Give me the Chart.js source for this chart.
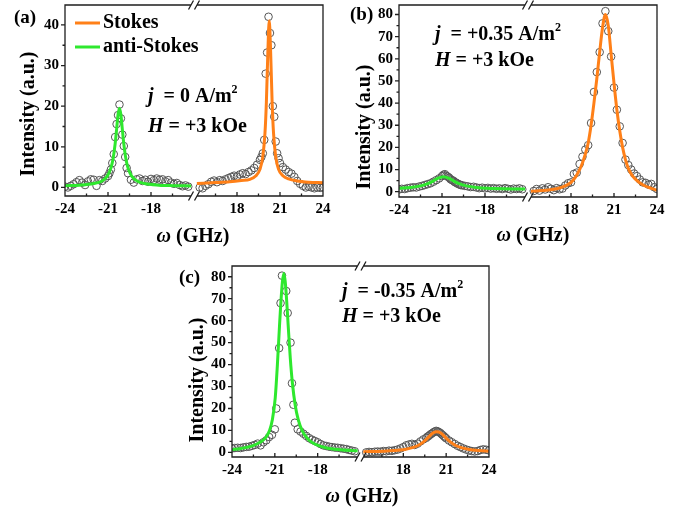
<!DOCTYPE html>
<html>
<head>
<meta charset="utf-8">
<script src="https://cdn.jsdelivr.net/npm/chart.js@4.4.1/dist/chart.umd.min.js"></script>
<style>
  html, body { margin: 0; padding: 0; background: #fff; }
  #wrap { position: relative; width: 689px; height: 513px; }
  #wrap canvas { position: absolute; }
</style>
</head>
<body>
<div id="wrap">
  <canvas id="chartA" width="345" height="255" style="left:0;top:0"></canvas>
  <canvas id="chartB" width="344" height="255" style="left:345px;top:0"></canvas>
  <canvas id="chartC" width="360" height="257" style="left:160px;top:256px"></canvas>
</div>
<script>
// ---- data (frequencies in GHz, intensity in a.u.) ----

// measured points: shared frequency grid for the anti-Stokes (left) and Stokes (right) side
const leftFreq = [-24.0, -23.8, -23.6, -23.4, -23.2, -23.0, -22.8, -22.6, -22.4, -22.2, -22.0, -21.8, -21.6, -21.4, -21.2,
  -21.0, -20.9, -20.8, -20.7, -20.6, -20.5, -20.4, -20.3, -20.2, -20.1, -20.0, -19.9, -19.8, -19.7, -19.6,
  -19.4, -19.2, -19.0, -18.8, -18.6, -18.4, -18.2, -18.0, -17.8, -17.6, -17.4, -17.2, -17.0, -16.8, -16.6, -16.4, -16.2, -16.0, -15.8, -15.6, -15.4];
const rightFreq = [15.4, 15.6, 15.8, 16.0, 16.2, 16.4, 16.6, 16.8, 17.0, 17.2, 17.4, 17.6, 17.8, 18.0, 18.2, 18.4, 18.6, 18.8, 19.0, 19.2, 19.4,
  19.6, 19.7, 19.8, 19.9, 20.0, 20.1, 20.2, 20.3, 20.4, 20.5, 20.6, 20.7, 20.8, 20.9, 21.0,
  21.2, 21.4, 21.6, 21.8, 22.0, 22.2, 22.4, 22.6, 22.8, 23.0, 23.2, 23.4, 23.6, 23.8, 24.0];

// (a) j = 0
const aAntiPoints = [0.2, 0.0, 0.4, 0.8, 1.3, 1.8, 1.2, 0.6, 1.5, 2.0, 1.9, 0.4, 1.8, 1.6, 2.2,
  2.8, 3.5, 4.4, 6.0, 8.2, 12.4, 15.6, 17.8, 20.4, 17.0, 13.0, 10.2, 7.5, 4.8, 3.5,
  1.9, 1.2, 2.0, 2.2, 1.6, 1.9, 1.4, 2.1, 1.8, 2.2, 1.9, 2.0, 1.5, 1.8, 1.2, 0.9, 1.1, 0.6, 0.3, 0.5, 0.2];
const aStokesPoints = [0.0, -0.2, 0.4, 0.8, 1.4, 1.7, 1.3, 1.8, 1.6, 2.0, 2.3, 2.6, 2.9, 2.7, 3.2, 3.5, 3.3, 3.8, 4.2, 4.8, 5.6,
  6.8, 7.5, 8.4, 11.7, 28.0, 33.2, 42.0, 38.0, 35.0, 20.0, 17.4, 11.3, 8.4, 7.2, 6.0,
  5.0, 4.4, 3.8, 3.4, 2.6, 1.6, 0.9, 0.4, 0.0, 0.2, 0.0, -0.2, 0.0, -0.1, 0.0];
const aAntiFitFreq = [-24.0, -23.0, -22.0, -21.45, -21.05, -20.8, -20.65, -20.5, -20.4, -20.3, -20.2, -20.1, -20.0, -19.9, -19.75, -19.6, -19.35, -18.95, -18.45, -17.45, -16.45, -15.2];
const aAntiFit = [0.45, 0.57, 0.96, 1.55, 2.8, 4.75, 7.0, 10.8, 14.3, 17.9, 19.5, 17.9, 14.3, 10.8, 7.0, 4.75, 2.8, 1.55, 0.96, 0.57, 0.45, 0.39];
const aStokesFitFreq = [15.2, 16.5, 17.5, 18.3, 18.9, 19.3, 19.6, 19.8, 19.95, 20.05, 20.15, 20.25, 20.35, 20.45, 20.55, 20.7, 20.9, 21.2, 21.6, 22.2, 23.0, 24.0];
const aStokesFit = [1.0, 1.2, 1.4, 1.7, 2.0, 2.8, 4.45, 7.6, 13.3, 21.0, 33.0, 41.0, 33.0, 21.0, 13.3, 7.6, 4.45, 2.9, 2.1, 1.6, 1.3, 1.15];

// (b) j = +0.35 A/m2
const bAntiPoints = [1.0, 1.3, 1.2, 1.6, 1.8, 2.0, 1.9, 2.3, 2.6, 3.0, 3.4, 3.8, 4.5, 5.2, 6.0,
  7.0, 7.6, 7.9, 7.2, 6.8, 6.3, 5.6, 5.2, 4.9, 4.3, 4.0, 3.6, 3.3, 3.0, 2.9,
  2.6, 2.4, 2.1, 2.2, 1.9, 1.6, 1.8, 1.5, 1.7, 1.4, 1.6, 1.3, 1.5, 1.2, 1.6, 1.3, 1.0, 1.4, 1.2, 1.5, 1.1];
const bStokesPoints = [0.3, 1.2, 0.5, 1.5, 1.0, 2.0, 1.3, 0.7, 1.6, 1.1, 1.4, 2.8, 3.8, 4.2, 8.0, 8.6, 12.5, 15.8, 19.0, 21.0, 31.0,
  45.0, null, 54.0, null, 63.0, null, 76.0, null, 81.5, null, 72.5, null, 61.0, null, 47.0,
  37.0, 29.5, 22.0, 14.5, 12.0, 10.0, 8.2, 7.0, 5.5, 4.2, 4.0, 3.2, 3.5, 2.0, 1.2];
const bAntiFitFreq = [-24.0, -23.2, -22.5, -22.0, -21.6, -21.3, -20.9, -20.5, -20.2, -19.8, -19.3, -18.6, -17.8, -16.8, -15.2];
const bAntiFit = [1.55, 1.92, 2.63, 3.62, 4.89, 6.0, 6.8, 6.0, 4.89, 3.62, 2.63, 1.92, 1.55, 1.33, 1.18];
const bStokesFitFreq = [15.2, 16.3, 17.0, 17.6, 18.0, 18.3, 18.6, 18.8, 19.0, 19.2, 19.4, 19.6, 19.8, 20.0, 20.2, 20.4, 20.6, 20.8, 21.0, 21.2,
  21.4, 21.6, 21.8, 22.0, 22.3, 22.7, 23.1, 23.6, 24.0];
const bStokesFit = [0.2, 0.6, 1.3, 2.6, 4.2, 6.5, 10, 13, 17, 22, 30, 40, 51, 63, 74, 80, 75, 62, 49, 37,
  27.5, 20, 14.5, 10.5, 7.0, 4.5, 2.8, 1.5, 0.6];

// (c) j = -0.35 A/m2
const cAntiPoints = [1.8, 2.0, 2.1, 2.0, 2.3, 2.5, 2.6, 3.0, 3.4, 4.0, 3.2, 4.6, 5.5, 7.0, 8.0,
  10.5, 20.0, null, 47.5, 68.0, 80.5, null, null, 73.5, 63.5, null, 50.0, 31.5, 21.7, 13.5,
  10.5, 9.5, 8.5, 7.5, 6.5, 5.8, 5.2, 4.6, 3.8, 3.2, 2.9, 2.6, 2.4, 2.2, 2.1, 1.9, 1.7, 1.5, 1.1, 0.8, 0.5];
const cStokesPoints = [0.0, 0.2, 0.1, 0.3, 0.4, 0.3, 0.6, 0.5, 0.8, 0.7, 1.0, 1.3, 1.8, 2.4, 3.2, 3.6, 3.9, 3.4, 4.0, 5.0, 5.9,
  6.6, 7.2, 7.6, 8.2, 8.6, 9.1, 9.5, 9.8, 9.6, 9.2, 8.8, 8.2, 7.6, 7.0, 6.4,
  5.4, 4.6, 3.8, 3.0, 2.4, 1.8, 1.3, 0.9, 0.6, 0.4, 0.6, 1.1, 1.4, 1.2, 0.9];
const cAntiFitFreq = [-24.0, -23.37, -22.57, -22.07, -21.67, -21.37, -21.17, -20.97, -20.82, -20.67, -20.57, -20.47, -20.37,
  -20.27, -20.17, -20.07, -19.92, -19.77, -19.57, -19.37, -19.07, -18.67, -18.17, -17.37, -16.4, -15.2];
const cAntiFit = [1.2, 1.8, 3.0, 4.5, 6.5, 10.0, 15.0, 25.0, 40.0, 58.0, 69.0, 77.6, 81.5,
  77.6, 69.0, 58.3, 43.1, 31.6, 21.4, 15.2, 9.7, 6.0, 3.7, 2.0, 1.2, 0.7];
const cStokesFitFreq = [15.2, 16.6, 17.4, 18.1, 18.7, 19.1, 19.5, 19.8, 20.1, 20.35, 20.6, 20.9, 21.2, 21.6, 22.0, 22.6, 23.3, 24.0];
const cStokesFit = [0.3, 0.53, 0.83, 1.35, 2.26, 3.38, 5.25, 7.18, 8.96, 9.4, 8.96, 7.18, 5.25, 3.38, 2.26, 1.35, 0.83, 0.52];

// axis ticks
const xMajorTicks = [-24, -21, -18, 18, 21, 24];
const xMinorTicks = [-22.5, -19.5, -16.5, 16.5, 19.5, 22.5];
const yTicksA = [0, 10, 20, 30, 40];
const yMinorA = [5, 15, 25, 35];
const yTicksBC = [0, 10, 20, 30, 40, 50, 60, 70, 80];
const yMinorBC = [5, 15, 25, 35, 45, 55, 65, 75];

// ---- helpers ----
const BREAK = 15;            // the axis skips -15 .. 15 GHz
const Y_W = 40, X_H = 30;    // fixed axis box sizes
const ORANGE = 'rgb(255,128,24)';
const GREEN = 'rgb(46,232,46)';
const SERIF = '"Liberation Serif", "Times New Roman", serif';

const shift = v => v < 0 ? v + BREAK : v - BREAK;
const unshift = v => v < 0 ? v - BREAK : v + BREAK;

function pts(xs, ys) {
  return xs.map((x, i) => ({ x: shift(x), y: ys[i] })).filter(p => p.y !== null);
}

function pointSet(xs, ys) {
  return {
    data: pts(xs, ys), showLine: false, order: 2,
    pointRadius: 3.8, pointBorderWidth: 1, pointBorderColor: '#555', pointBackgroundColor: 'rgba(0,0,0,0)'
  };
}

function fitSet(xs, ys, color, label) {
  return {
    label: label, data: pts(xs, ys), showLine: true, order: 1,
    borderColor: color, backgroundColor: color, borderWidth: 3, pointRadius: 0,
    cubicInterpolationMode: 'monotone'
  };
}

function drawRich(ctx, parts, x, y, size) {
  ctx.textBaseline = 'middle';
  ctx.textAlign = 'left';
  parts.forEach(p => {
    const s = p.sup ? size * 0.6 : size;
    ctx.font = (p.italic ? 'italic ' : '') + 'bold ' + s + 'px ' + SERIF;
    ctx.fillText(p.text, x, p.sup ? y - size * 0.33 : y);
    x += ctx.measureText(p.text).width;
  });
}

function richWidth(ctx, parts, size) {
  let w = 0;
  parts.forEach(p => {
    ctx.font = (p.italic ? 'italic ' : '') + 'bold ' + (p.sup ? size * 0.6 : size) + 'px ' + SERIF;
    w += ctx.measureText(p.text).width;
  });
  return w;
}

// frame with axis break, inward x ticks, outward y ticks and all the panel texts
const panelDecor = {
  id: 'panelDecor',
  afterDraw(chart, args, o) {
    const { ctx, chartArea: a, scales: { x, y } } = chart;
    const ox = o.offset[0], oy = o.offset[1];
    ctx.save();
    ctx.strokeStyle = '#1e1e1e';
    ctx.lineWidth = 1.3;
    const bx = x.getPixelForValue(0), g = 3;
    ctx.beginPath();
    ctx.moveTo(bx - g, a.bottom); ctx.lineTo(a.left, a.bottom); ctx.lineTo(a.left, a.top); ctx.lineTo(bx - g, a.top);
    ctx.moveTo(bx + g, a.top); ctx.lineTo(a.right, a.top); ctx.lineTo(a.right, a.bottom); ctx.lineTo(bx + g, a.bottom);
    [a.top, a.bottom].forEach(yy => {
      [-g, g].forEach(dx => { ctx.moveTo(bx + dx - 2.5, yy + 4.5); ctx.lineTo(bx + dx + 2.5, yy - 4.5); });
    });
    xMajorTicks.forEach(v => { const px = x.getPixelForValue(shift(v)); ctx.moveTo(px, a.bottom); ctx.lineTo(px, a.bottom - 4); });
    xMinorTicks.forEach(v => { const px = x.getPixelForValue(shift(v)); ctx.moveTo(px, a.bottom); ctx.lineTo(px, a.bottom - 2.5); });
    o.yMajor.forEach(v => { const py = y.getPixelForValue(v); ctx.moveTo(a.left, py); ctx.lineTo(a.left - 4, py); });
    o.yMinor.forEach(v => { const py = y.getPixelForValue(v); ctx.moveTo(a.left, py); ctx.lineTo(a.left - 2.5, py); });
    ctx.stroke();

    ctx.fillStyle = '#000';
    // panel letter
    drawRich(ctx, [{ text: o.letter }], o.letterPos[0] - ox, o.letterPos[1] - oy, 19);
    // y title
    ctx.save();
    ctx.translate(o.yTitlePos[0] - ox, o.yTitlePos[1] - oy);
    ctx.rotate(-Math.PI / 2);
    ctx.font = 'bold 20px ' + SERIF;
    ctx.textAlign = 'center';
    ctx.textBaseline = 'middle';
    ctx.fillText('Intensity (a.u.)', 0, 0);
    ctx.restore();
    // x title
    const xt = [{ text: '\u03C9', italic: true }, { text: ' (GHz)' }];
    drawRich(ctx, xt, o.xTitlePos[0] - ox - richWidth(ctx, xt, 20) / 2, o.xTitlePos[1] - oy, 20);
    // current and field annotation
    drawRich(ctx, [{ text: 'j', italic: true }, { text: '  = ' + o.current + ' A/m' }, { text: '2', sup: true }],
      o.notePos[0] - ox, o.notePos[1] - oy, 20);
    drawRich(ctx, [{ text: 'H', italic: true }, { text: ' = +3 kOe' }],
      o.notePos[0] - ox, o.notePos[1] - oy + o.noteGap, 20);
    // legend
    if (o.legendPos) {
      let ly = o.legendPos[1] - oy;
      chart.data.datasets.filter(d => d.label).forEach(d => {
        const lx = o.legendPos[0] - ox;
        ctx.strokeStyle = d.borderColor;
        ctx.lineWidth = 3;
        ctx.beginPath(); ctx.moveTo(lx, ly); ctx.lineTo(lx + 25, ly); ctx.stroke();
        drawRich(ctx, [{ text: d.label }], lx + 28, ly, 20);
        ly += 24;
      });
    }
    ctx.restore();
  }
};

function makePanel(id, p) {
  const l = p.area[0] - p.offset[0], t = p.area[1] - p.offset[1];
  const r = p.area[2] - p.offset[0], b = p.area[3] - p.offset[1];
  const cv = document.getElementById(id);
  const tickFont = { family: SERIF, weight: 'bold', size: 15 };
  return new Chart(cv.getContext('2d'), {
    type: 'scatter',
    data: { datasets: p.datasets },
    options: {
      responsive: false, animation: false, devicePixelRatio: 1, events: [],
      layout: { padding: { left: l - Y_W, top: t, right: cv.width - r, bottom: cv.height - b - X_H } },
      plugins: { legend: { display: false }, tooltip: { enabled: false }, panelDecor: p.decor },
      scales: {
        x: {
          type: 'linear', min: -9, max: 9,
          afterBuildTicks: s => { s.ticks = xMajorTicks.map(v => ({ value: shift(v) })); },
          afterFit: s => { s.height = X_H; s.paddingLeft = 0; s.paddingRight = 0; },
          grid: { display: false, drawTicks: false }, border: { display: false },
          ticks: { autoSkip: false, maxRotation: 0, padding: 4, color: '#000', font: tickFont,
            callback: v => String(Math.round(unshift(v))) }
        },
        y: {
          type: 'linear', min: p.yMin, max: p.yMax,
          afterBuildTicks: s => { s.ticks = p.decor.yMajor.map(v => ({ value: v })); },
          afterFit: s => { s.width = Y_W; s.paddingTop = 0; s.paddingBottom = 0; },
          grid: { display: false, drawTicks: false }, border: { display: false },
          ticks: { padding: 6, color: '#000', font: tickFont }
        }
      }
    },
    plugins: [panelDecor]
  });
}

makePanel('chartA', {
  offset: [0, 0], area: [65, 4, 323, 196], yMin: -2.1, yMax: 44.9,
  datasets: [
    fitSet(aStokesFitFreq, aStokesFit, ORANGE, 'Stokes'),
    fitSet(aAntiFitFreq, aAntiFit, GREEN, 'anti-Stokes'),
    pointSet(leftFreq, aAntiPoints),
    pointSet(rightFreq, aStokesPoints)
  ],
  decor: {
    offset: [0, 0], yMajor: yTicksA, yMinor: yMinorA, letter: '(a)', letterPos: [14, 18],
    yTitlePos: [29, 114], xTitlePos: [193, 237], current: '0', notePos: [148, 97], noteGap: 30,
    legendPos: [75, 23]
  }
});

makePanel('chartB', {
  offset: [345, 0], area: [399, 4, 657, 197], yMin: -2.4, yMax: 84.3,
  datasets: [
    fitSet(bStokesFitFreq, bStokesFit, ORANGE),
    fitSet(bAntiFitFreq, bAntiFit, GREEN),
    pointSet(leftFreq, bAntiPoints),
    pointSet(rightFreq, bStokesPoints)
  ],
  decor: {
    offset: [345, 0], yMajor: yTicksBC, yMinor: yMinorBC, letter: '(b)', letterPos: [350, 15],
    yTitlePos: [365, 127], xTitlePos: [533, 236], current: '+0.35', notePos: [435, 35], noteGap: 26
  }
});

makePanel('chartC', {
  offset: [160, 256], area: [232, 266, 489, 457], yMin: -2.1, yMax: 84.9,
  datasets: [
    fitSet(cStokesFitFreq, cStokesFit, ORANGE),
    fitSet(cAntiFitFreq, cAntiFit, GREEN),
    pointSet(leftFreq, cAntiPoints),
    pointSet(rightFreq, cStokesPoints)
  ],
  decor: {
    offset: [160, 256], yMajor: yTicksBC, yMinor: yMinorBC, letter: '(c)', letterPos: [179, 278],
    yTitlePos: [198, 380], xTitlePos: [362, 497], current: '-0.35', notePos: [342, 292], noteGap: 25
  }
});
</script>
</body>
</html>
